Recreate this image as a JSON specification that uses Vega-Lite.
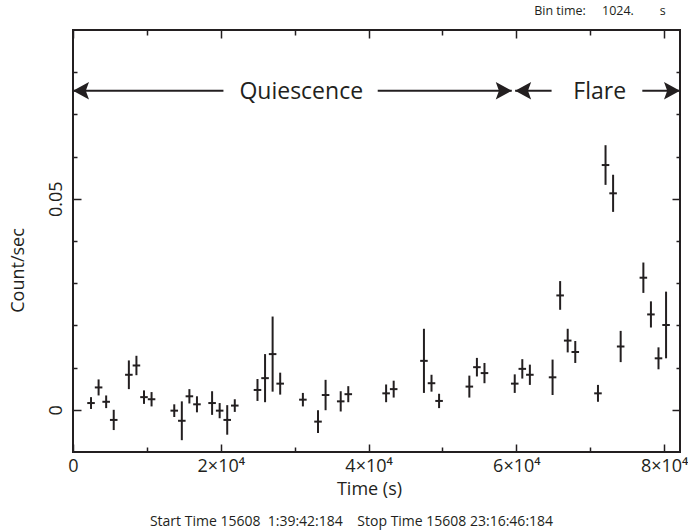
{
  "$schema": "https://vega.github.io/schema/vega-lite/v6.json",
  "autosize": "none",
  "width": 607,
  "height": 422,
  "padding": {"left": 73, "top": 30, "right": 8, "bottom": 80},
  "background": "white",
  "title": {
    "text": "Bin time:\u00a0\u00a0\u00a0\u00a0 1024.\u00a0\u00a0\u00a0\u00a0\u00a0\u00a0\u00a0 s",
    "anchor": "end",
    "orient": "top",
    "fontSize": 12.5,
    "fontWeight": "normal",
    "font": "Open Sans",
    "color": "#231f20",
    "offset": 12,
    "dx": -22
  },
  "config": {
    "view": {"stroke": "#231f20", "strokeWidth": 2},
    "axis": {
      "domain": false,
      "grid": false,
      "tickColor": "#231f20",
      "tickWidth": 1.5,
      "labelFont": "Open Sans",
      "labelFontSize": 18,
      "labelColor": "#231f20",
      "titleFont": "Open Sans",
      "titleFontSize": 18,
      "titleFontWeight": "normal",
      "titleColor": "#231f20"
    }
  },
  "datasets": {
    "lc": [
      {"t": 2440, "rate": 0.0016, "err": 0.0014, "terr": 512},
      {"t": 3464, "rate": 0.0053, "err": 0.0019, "terr": 512},
      {"t": 4488, "rate": 0.0019, "err": 0.0015, "terr": 512},
      {"t": 5512, "rate": -0.0024, "err": 0.0024, "terr": 512},
      {"t": 7560, "rate": 0.0083, "err": 0.0034, "terr": 512},
      {"t": 8584, "rate": 0.0105, "err": 0.0023, "terr": 512},
      {"t": 9608, "rate": 0.0030, "err": 0.0016, "terr": 512},
      {"t": 10632, "rate": 0.0025, "err": 0.0017, "terr": 512},
      {"t": 13704, "rate": -0.0002, "err": 0.0015, "terr": 512},
      {"t": 14728, "rate": -0.0026, "err": 0.0046, "terr": 512},
      {"t": 15752, "rate": 0.0032, "err": 0.0017, "terr": 512},
      {"t": 16776, "rate": 0.0013, "err": 0.0019, "terr": 512},
      {"t": 18824, "rate": 0.0016, "err": 0.0028, "terr": 512},
      {"t": 19848, "rate": -0.0002, "err": 0.0018, "terr": 512},
      {"t": 20872, "rate": -0.0024, "err": 0.0035, "terr": 512},
      {"t": 21896, "rate": 0.0010, "err": 0.0015, "terr": 512},
      {"t": 24968, "rate": 0.0047, "err": 0.0026, "terr": 512},
      {"t": 25992, "rate": 0.0075, "err": 0.0057, "terr": 512},
      {"t": 27016, "rate": 0.0132, "err": 0.0089, "terr": 512},
      {"t": 28040, "rate": 0.0062, "err": 0.0026, "terr": 512},
      {"t": 31112, "rate": 0.0024, "err": 0.0016, "terr": 512},
      {"t": 33160, "rate": -0.0028, "err": 0.0027, "terr": 512},
      {"t": 34184, "rate": 0.0035, "err": 0.0036, "terr": 512},
      {"t": 36232, "rate": 0.0020, "err": 0.0024, "terr": 512},
      {"t": 37256, "rate": 0.0037, "err": 0.0019, "terr": 512},
      {"t": 42376, "rate": 0.0039, "err": 0.0021, "terr": 512},
      {"t": 43400, "rate": 0.0049, "err": 0.0020, "terr": 512},
      {"t": 47496, "rate": 0.0116, "err": 0.0076, "terr": 512},
      {"t": 48520, "rate": 0.0063, "err": 0.0020, "terr": 512},
      {"t": 49544, "rate": 0.0021, "err": 0.0017, "terr": 512},
      {"t": 53640, "rate": 0.0055, "err": 0.0026, "terr": 512},
      {"t": 54664, "rate": 0.0101, "err": 0.0022, "terr": 512},
      {"t": 55688, "rate": 0.0087, "err": 0.0024, "terr": 512},
      {"t": 59784, "rate": 0.0062, "err": 0.0022, "terr": 512},
      {"t": 60808, "rate": 0.0097, "err": 0.0023, "terr": 512},
      {"t": 61832, "rate": 0.0083, "err": 0.0024, "terr": 512},
      {"t": 64904, "rate": 0.0077, "err": 0.0042, "terr": 512},
      {"t": 65928, "rate": 0.0271, "err": 0.0034, "terr": 512},
      {"t": 66952, "rate": 0.0164, "err": 0.0028, "terr": 512},
      {"t": 67976, "rate": 0.0137, "err": 0.0026, "terr": 512},
      {"t": 71048, "rate": 0.0039, "err": 0.0020, "terr": 512},
      {"t": 72072, "rate": 0.0580, "err": 0.0047, "terr": 512},
      {"t": 73096, "rate": 0.0513, "err": 0.0044, "terr": 512},
      {"t": 74120, "rate": 0.0150, "err": 0.0037, "terr": 512},
      {"t": 77192, "rate": 0.0313, "err": 0.0036, "terr": 512},
      {"t": 78216, "rate": 0.0226, "err": 0.0031, "terr": 512},
      {"t": 79240, "rate": 0.0122, "err": 0.0026, "terr": 512},
      {"t": 80264, "rate": 0.0201, "err": 0.0079, "terr": 512}
    ],
    "lines": [
      {"x1": 0, "x2": 20360, "y": 0.0756},
      {"x1": 41240, "x2": 59380, "y": 0.0756},
      {"x1": 59840, "x2": 64770, "y": 0.0756},
      {"x1": 77050, "x2": 82150, "y": 0.0756}
    ],
    "heads": [
      {"x": 0, "y": 0.0756, "dir": "left"},
      {"x": 59380, "y": 0.0756, "dir": "right"},
      {"x": 59840, "y": 0.0756, "dir": "left"},
      {"x": 82150, "y": 0.0756, "dir": "right"}
    ],
    "labels": [
      {"x": 30890, "y": 0.0756, "label": "Quiescence"},
      {"x": 71280, "y": 0.0756, "label": "Flare"}
    ]
  },
  "resolve": {"axis": {"x": "independent", "y": "independent"}},
  "layer": [
    {
      "data": {"name": "lc"},
      "mark": {"type": "errorbar", "thickness": 2, "color": "#231f20"},
      "encoding": {
        "x": {
          "field": "t", "type": "quantitative",
          "scale": {"domain": [0, 82150], "nice": false, "zero": false},
          "axis": {
            "orient": "bottom", "values": [0, 20000, 40000, 60000, 80000],
            "ticks": false, "labelPadding": 5,
            "labelExpr": "datum.value == 0 ? '0' : (datum.value / 10000) + '×10⁴'",
            "labelOverlap": false, "labelFlush": false,
            "title": "Time (s)", "titleX": 296, "titleY": 37, "titleAlign": "center", "titleBaseline": "middle"
          }
        },
        "y": {
          "field": "rate", "type": "quantitative",
          "scale": {"domain": [-0.01, 0.09], "nice": false, "zero": false},
          "axis": {
            "orient": "left", "values": [0, 0.05], "ticks": false, "format": "~g",
            "labelAngle": -90, "labelAlign": "center", "labelBaseline": "alphabetic", "labelPadding": 12,
            "title": "Count/sec", "titleAngle": -90, "titleX": -55, "titleY": 240, "titleAlign": "center", "titleBaseline": "middle"
          }
        },
        "yError": {"field": "err"}
      }
    },
    {
      "data": {"name": "lc"},
      "mark": {"type": "errorbar", "thickness": 2, "color": "#231f20"},
      "encoding": {
        "x": {
          "field": "t", "type": "quantitative",
          "axis": {"orient": "top", "values": [0, 20000, 40000, 60000, 80000], "tickSize": -8, "labels": false, "title": null}
        },
        "xError": {"field": "terr"},
        "y": {
          "field": "rate", "type": "quantitative",
          "axis": {"orient": "right", "values": [0, 0.05], "tickSize": -8, "labels": false, "title": null}
        }
      }
    },
    {
      "data": {"name": "lines"},
      "mark": {"type": "rule", "strokeWidth": 2, "color": "#231f20"},
      "encoding": {
        "x": {
          "field": "x1", "type": "quantitative",
          "axis": {
            "orient": "bottom", "values": [0, 20000, 40000, 60000, 80000], "tickSize": -8, "labels": false,
            "title": "Start Time 15608\u00a0 1:39:42:184\u00a0\u00a0\u00a0 Stop Time 15608 23:16:46:184",
            "titleFontSize": 14, "titleX": 278, "titleY": 69, "titleAlign": "center", "titleBaseline": "middle"
          }
        },
        "x2": {"field": "x2"},
        "y": {
          "field": "y", "type": "quantitative",
          "axis": {"orient": "left", "values": [0, 0.05], "tickSize": -8, "labels": false, "title": null}
        }
      }
    },
    {
      "data": {"name": "heads"},
      "mark": {"type": "point", "filled": true, "opacity": 1, "size": 256, "color": "#231f20", "strokeWidth": 0},
      "encoding": {
        "x": {
          "field": "x", "type": "quantitative",
          "axis": {"orient": "top", "values": [10000, 30000, 50000, 70000], "tickSize": -5, "labels": false, "title": null}
        },
        "y": {
          "field": "y", "type": "quantitative",
          "axis": {"orient": "right", "values": [0.01, 0.02, 0.03, 0.04, 0.06, 0.07, 0.08], "tickSize": -4, "labels": false, "title": null}
        },
        "shape": {
          "field": "dir", "type": "nominal", "legend": null,
          "scale": {"domain": ["left", "right"], "range": ["M0,0L2,-1.1L1.6,0L2,1.1Z", "M0,0L-2,-1.1L-1.6,0L-2,1.1Z"]}
        }
      }
    },
    {
      "data": {"name": "labels"},
      "mark": {"type": "text", "font": "Open Sans", "fontSize": 23, "color": "#231f20", "baseline": "middle", "align": "center", "dy": 1},
      "encoding": {
        "x": {
          "field": "x", "type": "quantitative",
          "axis": {"orient": "bottom", "values": [10000, 30000, 50000, 70000], "tickSize": -5, "labels": false, "title": null}
        },
        "y": {
          "field": "y", "type": "quantitative",
          "axis": {"orient": "left", "values": [0.01, 0.02, 0.03, 0.04, 0.06, 0.07, 0.08], "tickSize": -4, "labels": false, "title": null}
        },
        "text": {"field": "label"}
      }
    }
  ]
}
